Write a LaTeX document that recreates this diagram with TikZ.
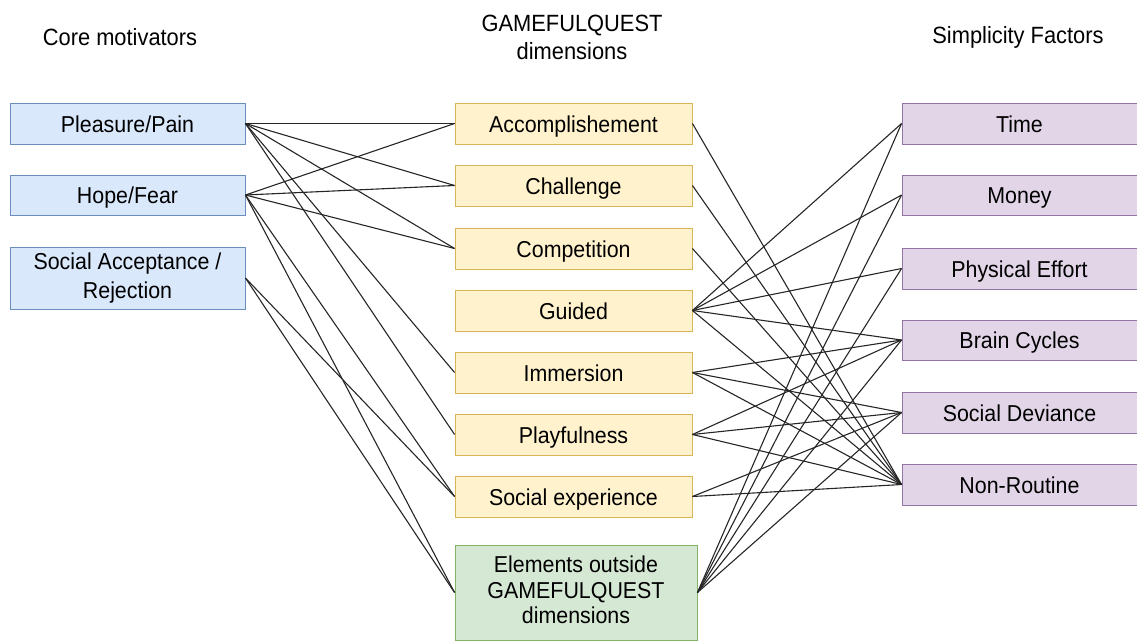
\documentclass[tikz,border=0pt]{standalone}
\usepackage{fontspec}
\setmainfont{Liberation Sans}
\newfontfamily\dfont[FakeStretch=0.93]{Liberation Sans}
\newcommand\bstr{\rule[-5pt]{0pt}{27pt}}
\definecolor{cmfill}{HTML}{DAE8FC}\definecolor{cmdraw}{HTML}{6C8EBF}
\definecolor{gqfill}{HTML}{FFF2CC}\definecolor{gqdraw}{HTML}{D6B656}
\definecolor{elfill}{HTML}{D5E8D4}\definecolor{eldraw}{HTML}{82B366}
\definecolor{sffill}{HTML}{E1D5E7}\definecolor{sfdraw}{HTML}{9673A6}
\begin{document}
\begin{tikzpicture}[x=1pt,y=-1pt,
  box/.style={draw, line width=0.9pt, inner sep=0pt, align=center,
    font=\dfont\fontsize{23}{27}\selectfont,
    execute at begin node={\bstr}, execute at end node={\bstr}},
  cmbox/.style={box, fill=cmfill, draw=cmdraw, minimum width=235pt},
  gqbox/.style={box, fill=gqfill, draw=gqdraw, minimum width=237pt, minimum height=41pt},
  elbox/.style={box, fill=elfill, draw=eldraw, minimum width=242pt, minimum height=95pt,
    font=\dfont\fontsize{23}{25.5}\selectfont},
  sfbox/.style={box, fill=sffill, draw=sfdraw, minimum width=235pt},
  head/.style={align=center, inner sep=0pt, font=\dfont\fontsize{23.5}{28}\selectfont},
  link/.style={draw=black!85, line width=1.1pt}]
\useasboundingbox (0,0) rectangle (1137,642);
% headings
\node[head] (h1) at (120,37) {Core motivators};
\node[head] (h2) at (572,37) {GAMEFULQUEST\\dimensions};
\node[head] (h3) at (1018,37) {Simplicity Factors};
% core motivators
\node[cmbox, minimum height=41pt] (pp) at (127.5,123.5) {Pleasure/Pain};
\node[cmbox, minimum height=40pt] (hf) at (127.5,195) {Hope/Fear};
\node[cmbox, minimum height=62pt, font=\dfont\fontsize{23}{28.5}\selectfont] (sa) at (127.5,278) {Social Acceptance /\\Rejection};
% gamefulquest dimensions
\node[gqbox] (acc) at (573.5,123.5) {Accomplishement};
\node[gqbox] (cha) at (573.5,185.5) {Challenge};
\node[gqbox] (com) at (573.5,248.5) {Competition};
\node[gqbox] (gui) at (573.5,310.5) {Guided};
\node[gqbox] (imm) at (573.5,372.5) {Immersion};
\node[gqbox] (pla) at (573.5,434.5) {Playfulness};
\node[gqbox] (soc) at (573.5,496.5) {Social experience};
\node[elbox] (ele) at (576,592.5) {Elements outside\\GAMEFULQUEST\\dimensions};
% simplicity factors
\node[sfbox, minimum height=41pt] (tim) at (1019.5,123.5) {Time};
\node[sfbox, minimum height=40pt] (mon) at (1019.5,195) {Money};
\node[sfbox, minimum height=41pt] (pe)  at (1019.5,268.5) {Physical Effort};
\node[sfbox, minimum height=40pt] (bc)  at (1019.5,340) {Brain Cycles};
\node[sfbox, minimum height=41pt] (sd)  at (1019.5,412.5) {Social Deviance};
\node[sfbox, minimum height=41pt] (nr)  at (1019.5,484.5) {Non-Routine};
% left connectors
\foreach \t in {acc,cha,com,imm,pla} \draw[link] (pp.east) -- (\t.west);
\foreach \t in {acc,cha,com,soc,ele} \draw[link] (hf.east) -- (\t.west);
\foreach \t in {soc,ele} \draw[link] (sa.east) -- (\t.west);
% right connectors
\foreach \s in {acc,cha,com} \draw[link] (\s.east) -- (nr.west);
\foreach \t in {tim,mon,pe,bc,nr} \draw[link] (gui.east) -- (\t.west);
\foreach \t in {bc,sd,nr} \draw[link] (imm.east) -- (\t.west);
\foreach \t in {bc,sd,nr} \draw[link] (pla.east) -- (\t.west);
\foreach \t in {sd,nr} \draw[link] (soc.east) -- (\t.west);
\foreach \t in {tim,mon,pe,bc,sd} \draw[link] (ele.east) -- (\t.west);
\end{tikzpicture}
\end{document}
